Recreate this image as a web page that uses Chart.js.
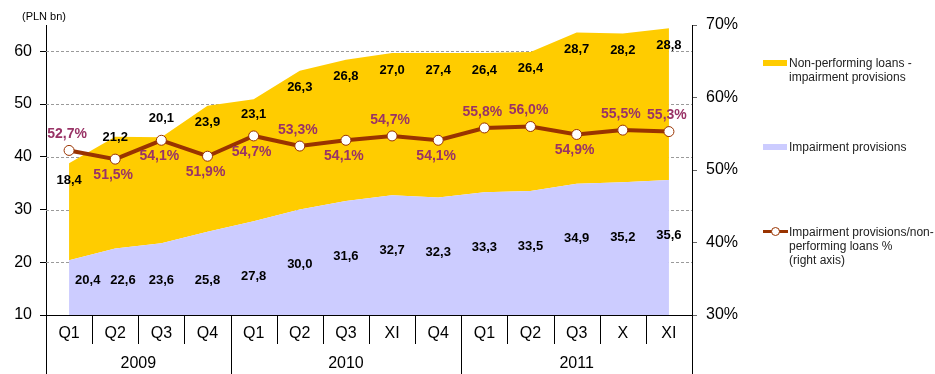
<!DOCTYPE html>
<html>
<head>
<meta charset="utf-8">
<script src="https://cdn.jsdelivr.net/npm/chart.js@4.4.0/dist/chart.umd.min.js"></script>
<style>
    body { margin: 0; background: #fff; font-family: 'Liberation Sans', Arial, sans-serif; }
    #wrap { position: relative; width: 935px; height: 374px; }
    #legend { position: absolute; left: 763px; top: 0; width: 172px; font-size: 12px; color: #222; line-height: 14px; }
    .item { position: absolute; left: 0; display: flex; white-space: nowrap; }
    .swatch { width: 24px; height: 6px; margin-top: 4px; margin-right: 2px; flex: none; }
    .lineSwatch { position: relative; width: 25px; height: 14px; margin-right: 1px; flex: none; }
    .lineSwatch .bar { position: absolute; left: 0; top: 5px; width: 25px; height: 3px; background: #993300; }
    .lineSwatch .dot { position: absolute; left: 8px; top: 2px; width: 7px; height: 7px; border: 1px solid #993300; border-radius: 50%; background: #fff; }
</style>
</head>
<body>
<div id="wrap">
    <canvas id="chart"></canvas>
    <div id="legend">
        <div class="item" style="top:56px"><span class="swatch" style="background:#FFCC00"></span><span>Non-performing loans -<br>impairment provisions</span></div>
        <div class="item" style="top:140px"><span class="swatch" style="background:#CCCCFF"></span><span>Impairment provisions</span></div>
        <div class="item" style="top:225px"><span class="lineSwatch"><span class="bar"></span><span class="dot"></span></span><span>Impairment provisions/non-<br>performing loans %<br>(right axis)</span></div>
    </div>
</div>
<script>
// quarters / months and the year each one belongs to
const categories = ['Q1', 'Q2', 'Q3', 'Q4', 'Q1', 'Q2', 'Q3', 'XI', 'Q4', 'Q1', 'Q2', 'Q3', 'X', 'XI'];
const years = ['2009', '2009', '2009', '2009', '2010', '2010', '2010', '2010', '2010', '2011', '2011', '2011', '2011', '2011'];

// PLN bn
const impairment = [20.4, 22.6, 23.6, 25.8, 27.8, 30.0, 31.6, 32.7, 32.3, 33.3, 33.5, 34.9, 35.2, 35.6];
const nplNet = [18.4, 21.2, 20.1, 23.9, 23.1, 26.3, 26.8, 27.0, 27.4, 26.4, 26.4, 28.7, 28.2, 28.8];
// %
const coverage = [52.7, 51.5, 54.1, 51.9, 54.7, 53.3, 54.1, 54.7, 54.1, 55.8, 56.0, 54.9, 55.5, 55.3];

const leftTicks = [10, 20, 30, 40, 50, 60];
const rightTicks = [30, 40, 50, 60, 70];

// which side of the point each % label goes
const coverageLabelSide = ['up', 'down', 'down', 'down', 'down', 'up', 'down', 'up', 'down', 'up', 'up', 'down', 'up', 'up'];

const FONT = "'Liberation Sans', Arial, sans-serif";
const fmt = v => v.toFixed(1).replace('.', ',');

const gridPlugin = {
    id: 'dashedGrid',
    beforeDatasetsDraw(chart) {
        const { ctx, chartArea: a, scales: { y } } = chart;
        ctx.save();
        ctx.strokeStyle = '#9a9a9a';
        ctx.lineWidth = 1;
        ctx.setLineDash([3, 2]);
        leftTicks.slice(1).forEach(v => {
            const py = Math.round(y.getPixelForValue(v)) + 0.5;
            ctx.beginPath();
            ctx.moveTo(a.left, py);
            ctx.lineTo(a.right, py);
            ctx.stroke();
        });
        ctx.restore();
    }
};

const labelPlugin = {
    id: 'valueLabels',
    afterDatasetsDraw(chart) {
        const { ctx, scales: { x, y, y1 } } = chart;
        ctx.save();
        ctx.textAlign = 'center';
        ctx.textBaseline = 'middle';

        // impairment provisions - low in the blue area, inside its left edge, no overlaps
        ctx.font = 'bold 13px ' + FONT;
        ctx.fillStyle = '#000';
        const floorY = y.getPixelForValue(10) - 35;
        let prevRight = x.getPixelForValue(0) - 4;
        impairment.forEach((v, i) => {
            const text = fmt(v);
            const half = ctx.measureText(text).width / 2;
            const px = Math.max(x.getPixelForValue(i), prevRight + 10 + half);
            const py = Math.min(y.getPixelForValue(v) + 55, floorY);
            ctx.fillText(text, px, py);
            prevRight = px + half;
        });

        // net NPL - just under the top edge, kept clear of the % line
        nplNet.forEach((v, i) => {
            let py = y.getPixelForValue(v + impairment[i]) + 17;
            const lineY = y1.getPixelForValue(coverage[i]);
            if (Math.abs(py - lineY) < 22) {
                py = coverageLabelSide[i] === 'down' ? lineY - 22 : lineY + 30;
            }
            ctx.fillText(fmt(v), x.getPixelForValue(i), py);
        });

        // coverage ratio
        ctx.font = 'bold 14px ' + FONT;
        ctx.fillStyle = '#993366';
        coverage.forEach((v, i) => {
            const py = y1.getPixelForValue(v) + (coverageLabelSide[i] === 'up' ? -16 : 16);
            ctx.fillText(fmt(v) + '%', x.getPixelForValue(i) - 2, py);
        });
        ctx.restore();
    }
};

const categoryAxisPlugin = {
    id: 'categoryAxis',
    afterDraw(chart) {
        const { ctx, chartArea: a, scales: { x } } = chart;
        const n = categories.length;
        const step = x.getPixelForValue(1) - x.getPixelForValue(0);
        ctx.save();
        ctx.strokeStyle = '#000';
        ctx.lineWidth = 1;
        for (let i = 0; i <= n; i++) {
            const bx = Math.round(x.getPixelForValue(i) - step / 2) + 0.5;
            const full = i === 0 || i === n || years[i] !== years[i - 1];
            ctx.beginPath();
            ctx.moveTo(bx, a.bottom);
            ctx.lineTo(bx, full ? chart.height : a.bottom + 29);
            ctx.stroke();
        }
        ctx.fillStyle = '#000';
        ctx.textAlign = 'center';
        ctx.textBaseline = 'middle';
        ctx.font = '16px ' + FONT;
        categories.forEach((c, i) => ctx.fillText(c, x.getPixelForValue(i), a.bottom + 19));

        let start = 0;
        for (let i = 1; i <= n; i++) {
            if (i === n || years[i] !== years[start]) {
                const cx = (x.getPixelForValue(start) + x.getPixelForValue(i - 1)) / 2;
                ctx.fillText(years[start], cx, a.bottom + 49);
                start = i;
            }
        }

        ctx.textAlign = 'left';
        ctx.font = '11px ' + FONT;
        ctx.fillText('(PLN bn)', 22, 17);
        ctx.restore();
    }
};

new Chart(document.getElementById('chart'), {
    type: 'line',
    data: {
        labels: categories,
        datasets: [
            {
                label: 'Impairment provisions',
                data: impairment,
                backgroundColor: '#CCCCFF',
                borderWidth: 0,
                pointRadius: 0,
                fill: 'origin',
                yAxisID: 'y',
                order: 1
            },
            {
                label: 'Non-performing loans - impairment provisions',
                data: nplNet,
                backgroundColor: '#FFCC00',
                borderWidth: 0,
                pointRadius: 0,
                fill: '-1',
                yAxisID: 'y',
                order: 2
            },
            {
                label: 'Impairment provisions/non-performing loans % (right axis)',
                data: coverage,
                borderColor: '#993300',
                borderWidth: 4,
                pointRadius: 5,
                pointBorderWidth: 1,
                pointBorderColor: '#993300',
                pointBackgroundColor: '#fff',
                fill: false,
                yAxisID: 'y1',
                order: 0
            }
        ]
    },
    options: {
        responsive: true,
        maintainAspectRatio: false,
        animation: false,
        layout: { padding: { top: 25, left: 0, right: 0, bottom: 0 } },
        plugins: {
            legend: { display: false },
            tooltip: { enabled: false }
        },
        scales: {
            x: {
                offset: true,
                grid: { display: false },
                ticks: { display: false },
                border: { display: true, color: '#000', width: 1 },
                afterFit: s => { s.height = 59; }
            },
            y: {
                stacked: true,
                position: 'left',
                min: 10,
                max: 65,
                afterBuildTicks: s => { s.ticks = leftTicks.map(v => ({ value: v })); },
                ticks: { color: '#000', font: { family: FONT, size: 16 }, padding: 8 },
                grid: { drawOnChartArea: false, tickLength: 6, tickColor: '#000' },
                border: { color: '#000', width: 1 },
                afterFit: s => { s.width = 46; }
            },
            y1: {
                position: 'right',
                min: 30,
                max: 70,
                afterBuildTicks: s => { s.ticks = rightTicks.map(v => ({ value: v })); },
                ticks: { color: '#000', font: { family: FONT, size: 16 }, padding: 9, callback: v => v + '%' },
                grid: { drawOnChartArea: false, tickLength: 5, tickColor: '#666' },
                border: { color: '#000', width: 1 },
                afterFit: s => { s.width = 243; }
            }
        }
    },
    plugins: [gridPlugin, labelPlugin, categoryAxisPlugin]
});
</script>
</body>
</html>
